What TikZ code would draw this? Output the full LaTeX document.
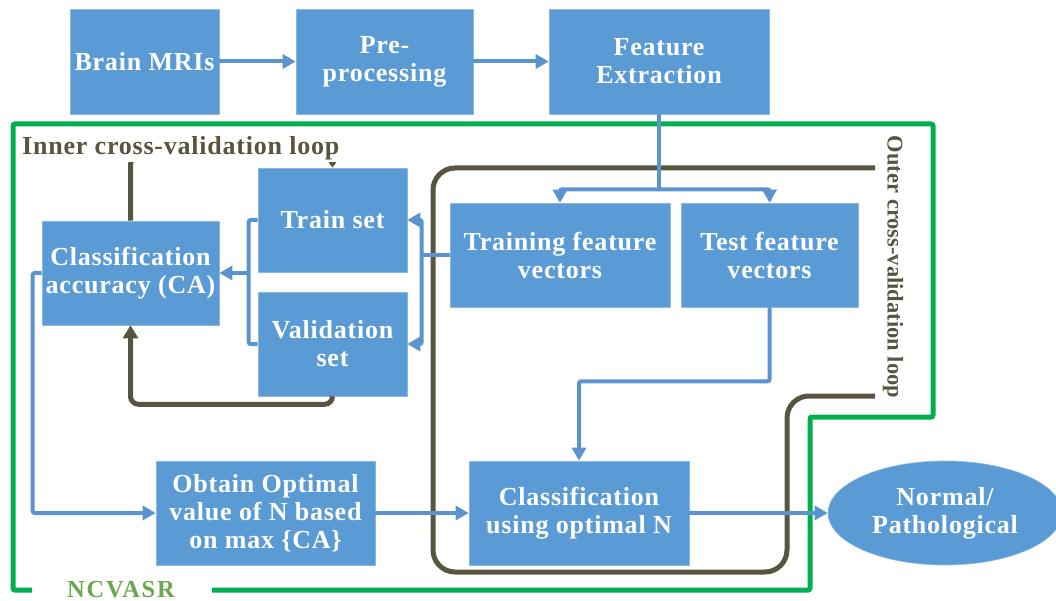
\documentclass[tikz,border=0pt]{standalone}
\usepackage{fontspec}
\setmainfont{Liberation Serif}
\newfontfamily\spacedserif{Liberation Serif}[LetterSpace=3]
\newfontfamily\widetag{Liberation Serif}[LetterSpace=7]
\usetikzlibrary{arrows.meta,shapes.geometric}

\definecolor{boxblue}{HTML}{5B9BD5}
\definecolor{linkblue}{HTML}{5A93CD}
\definecolor{loopdark}{HTML}{595440}
\definecolor{framegreen}{HTML}{00B050}
\definecolor{tagolive}{HTML}{6AA84F}

\begin{document}
\begin{tikzpicture}[x=1pt,y=-1pt,
  stage/.style={rectangle, fill=boxblue, draw=boxblue!70!white, line width=0.6pt,
    text=white, font=\spacedserif\fontsize{26}{28}\selectfont\bfseries, align=center, inner sep=0pt},
  linkline/.style={draw=linkblue, line width=4pt, rounded corners=2pt},
  link/.style={linkline, -{Triangle[length=13pt,width=14pt]}},
  loopline/.style={draw=loopdark, line width=5pt, rounded corners=22pt},
  frameline/.style={draw=framegreen, line width=5pt, rounded corners=2pt},
]
\useasboundingbox (0,0) rectangle (1056,601);

% processing stages
\node[stage, minimum width=149pt, minimum height=105pt] (mri)  at (144.5,61.5) {Brain MRIs};
\node[stage, minimum width=177pt, minimum height=105pt] (pre)  at (384.5,61.5) {Pre-\\processing};
\node[stage, minimum width=220pt, minimum height=105pt] (feat) at (659,61.5)   {Feature\\Extraction};

\node[stage, minimum width=149pt, minimum height=104pt] (train) at (332.5,220) {Train set};
\node[stage, minimum width=149pt, minimum height=104pt] (val)   at (332.5,344) {Validation\\set};
\node[stage, minimum width=177pt, minimum height=104pt] (ca)    at (130.5,273) {Classification\\accuracy (CA)};

\node[stage, minimum width=220pt, minimum height=104pt] (tfv) at (560,255)   {Training feature\\vectors};
\node[stage, minimum width=177pt, minimum height=104pt] (tst) at (769.5,255) {Test feature\\vectors};

\node[stage, minimum width=219pt, minimum height=104pt] (obt) at (265.5,513) {Obtain Optimal\\value of N based\\on max \{CA\}};
\node[stage, minimum width=220pt, minimum height=104pt] (cls) at (579,513)   {Classification\\using optimal N};
\node[stage, ellipse, minimum width=234pt, minimum height=104pt] (res) at (945,513) {Normal/\\Pathological};

% NCVASR frame
\draw[frameline] (212,590) -- (810,590) -- (810,417) -- (933,417) -- (933,124)
  -- (13,124) -- (13,590) -- (32,590);
\node[font=\widetag\fontsize{24.5}{26}\selectfont\bfseries, text=tagolive, anchor=base] (tag) at (121,597) {NCVASR};

% outer cross-validation loop
\draw[loopline] (875,168) -- (433,168) -- (433,572) -- (787,572) -- (787,396) -- (875,396);
\node[rotate=-90, font=\fontsize{22.5}{24}\selectfont\bfseries, text=loopdark] (outer) at (893,267) {Outer cross-validation loop};

% inner cross-validation loop
\draw[loopline, rounded corners=8pt, -{Triangle[length=9pt,width=11pt]}]
  (ca.north) -- ++(0,-64) -| (train.north);
\draw[loopline, rounded corners=8pt, -{Triangle[length=13pt,width=15pt]}]
  (val.south) -- ++(0,8) -| (ca.south);
\node[fill=white, inner sep=1pt, text=loopdark, font=\spacedserif\fontsize{26}{28}\selectfont\bfseries, anchor=base west] (inner) at (21,155) {Inner cross-validation loop};

% data flow
\draw[link] (mri) -- (pre);
\draw[link] (pre) -- (feat);
\draw[linkline] (feat.south) -- ++(0,75) coordinate (split);
\draw[link] (split) -| (tfv.north);
\draw[link] (split) -| (tst.north);

\draw[linkline] (tfv.west) -- ++(-28,0) coordinate (fork);
\draw[link] (fork) |- (train.east);
\draw[link] (fork) |- (val.east);

\draw[linkline] (train.west) -- ++(-9,0) coordinate (tj) |- (val.west);
\draw[link] (tj |- ca.east) -- (ca.east);

\draw[link] (ca.west) -- ++(-9,0) |- (obt.west);
\draw[link] (obt) -- (cls);
\draw[link] (tst.south) -- ++(0,74) -| (cls.north);
\draw[link] (cls) -- (res);
\end{tikzpicture}
\end{document}
